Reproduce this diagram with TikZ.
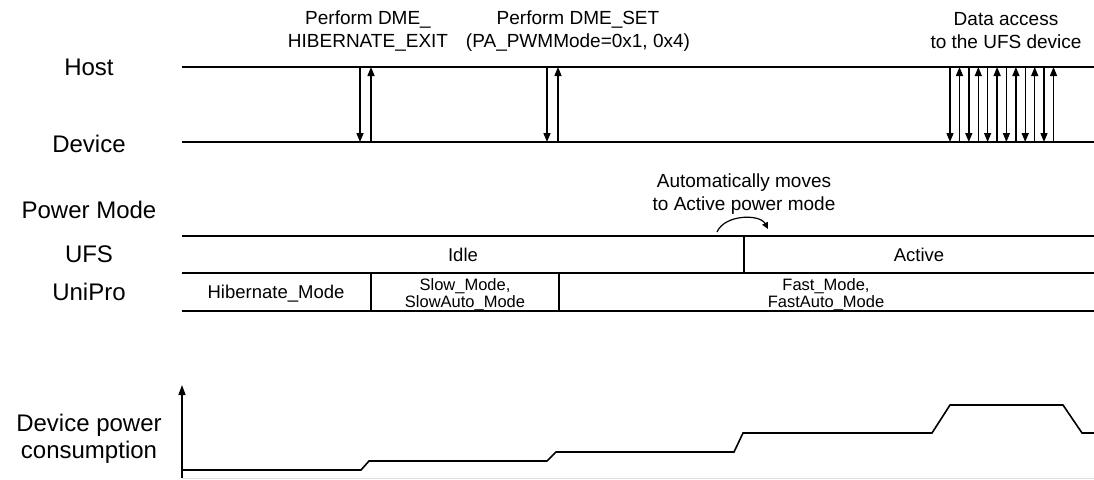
\documentclass[tikz,border=0pt]{standalone}
\usepackage{fontspec}
\setmainfont{Liberation Sans}
\usetikzlibrary{arrows.meta}

\begin{document}
\begin{tikzpicture}[x=1pt,y=-1pt,
    lane/.style={line width=1.6pt},
    msg/.style={line width=1.4pt,-{Triangle[length=9pt,width=7pt]}},
    side/.style={anchor=base,font=\fontsize{24}{27}\selectfont,align=center},
    note/.style={anchor=base,font=\fontsize{19}{22.5}\selectfont,align=center},
    cell/.style={anchor=base,font=\fontsize{18.5}{22}\selectfont},
    cellsm/.style={anchor=base,font=\fontsize{16.5}{17}\selectfont,align=center}]
    \useasboundingbox (0,0) rectangle (1094,479);

    % row labels
    \node[side] (host) at (89,75) {Host};
    \node[side] (device) at (89,152) {Device};
    \node[side] (pmode) at (89,218) {Power Mode};
    \node[side] (ufs) at (89,262) {UFS};
    \node[side] (unipro) at (89,300) {UniPro};
    \node[side] (power) at (89,458) {Device power\\consumption};

    % host / device lines
    \coordinate (hostL) at (182,67);  \coordinate (hostR) at (1094,67);
    \coordinate (devL) at (182,142);  \coordinate (devR) at (1094,142);
    \draw[lane] (hostL) -- (hostR);
    \draw[lane] (devL) -- (devR);

    % commands
    \foreach \xd/\xu [count=\i] in {360/371,547/558}{
      \coordinate (cd\i) at (\xd,67);  \coordinate (ce\i) at (\xd,142);
      \coordinate (cu\i) at (\xu,142); \coordinate (cv\i) at (\xu,67);
      \draw[msg] (cd\i) -- (ce\i);
      \draw[msg] (cu\i) -- (cv\i);
    }
    \foreach \i in {0,...,5}{
      \pgfmathsetmacro\xd{950+18.8*\i}
      \pgfmathsetmacro\xu{959.5+18.8*\i}
      \coordinate (dd\i) at (\xd,67);  \coordinate (de\i) at (\xd,142);
      \coordinate (du\i) at (\xu,142); \coordinate (dv\i) at (\xu,67);
      \draw[msg] (dd\i) -- (de\i);
      \draw[msg] (du\i) -- (dv\i);
    }

    \node[note] (hibexit) at (368,47) {Perform DME\_\\HIBERNATE\_EXIT};
    \node[note] (dmeset) at (578,47) {Perform DME\_SET\\(PA\_PWMMode=0x1, 0x4)};
    \node[note] (access) at (1006,48) {Data access\\to the UFS device};

    % power mode rows
    \draw[lane] (182,236) -- (1094,236);
    \draw[lane] (182,273) -- (1094,273);
    \draw[lane] (182,311) -- (1094,311);
    \draw[lane] (744,236) -- (744,273);
    \draw[lane] (371,273) -- (371,311);
    \draw[lane] (559,273) -- (559,311);

    \node[cell] (idle) at (463,261) {Idle};
    \node[cell] (active) at (919,261) {Active};
    \node[cell] (hib) at (276,298) {Hibernate\_Mode};
    \node[cellsm] (slow) at (465,307) {Slow\_Mode,\\SlowAuto\_Mode};
    \node[cellsm] (fast) at (826,307) {Fast\_Mode,\\FastAuto\_Mode};

    \node[note] (auto) at (744,210) {Automatically moves\\to Active power mode};
    \coordinate (swA) at (717,232);
    \coordinate (swB) at (768,229);
    \draw[line width=1.2pt,-{Triangle[length=6.5pt,width=6pt]}]
      (swA) .. controls (725,214) and (760,214) .. (swB);

    % power consumption
    \coordinate (orig) at (182,478);
    \coordinate (ytop) at (182,385);
    \draw[black!12,line width=1pt] (orig) -- (1094,478);
    \draw[line width=1.4pt,-{Triangle[length=10pt,width=7pt]}] (orig) -- (ytop);
    \draw[lane,line join=miter] (182,470) -- (361,470) -- (369,461) -- (547,461)
      -- (556,452) -- (734,452) -- (743,433) -- (932,433) -- (950,405)
      -- (1063,405) -- (1082,433) -- (1094,433);
  \end{tikzpicture}
\end{document}
